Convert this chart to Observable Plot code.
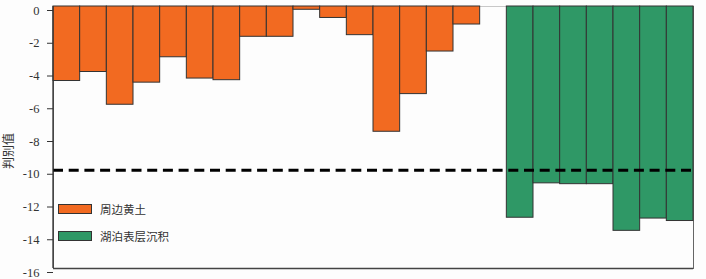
<!DOCTYPE html>
<html>
<head>
<meta charset="utf-8">
<script src="https://cdn.jsdelivr.net/npm/d3@7"></script>
<script src="https://cdn.jsdelivr.net/npm/@observablehq/plot@0.6"></script>
<style>
  html, body { margin: 0; padding: 0; background: #fdfdfd; }
  #wrap { position: relative; width: 706px; height: 279px; }
  #wrap svg text { font-family: "Liberation Serif", "Times New Roman", serif !important; }
  #wrap svg text.ytitle { font-family: "Noto Sans CJK SC", sans-serif !important; }
  .legend { position: absolute; left: 58px; top: 0; font-family: "Noto Sans CJK SC", sans-serif; font-size: 11.5px; color: #333; }
  .legend .item { position: absolute; display: flex; align-items: center; white-space: nowrap; }
  .legend .sw { width: 32px; height: 8px; border: 1px solid #333; margin-right: 8px; }
</style>
</head>
<body>
<div id="wrap"></div>
<script>
// Discriminant values of surrounding loess samples
const loessIds = ["L1","L2","L3","L4","L5","L6","L7","L8","L9","L10","L11","L12","L13","L14","L15","L16"];
const loessValues = [-4.55, -4.0, -6.0, -4.65, -3.1, -4.4, -4.5, -1.85, -1.85, -0.2, -0.7, -1.75, -7.65, -5.35, -2.75, -1.1];

// Discriminant values of lake surface sediment samples
const lakeIds = ["S1","S2","S3","S4","S5","S6","S7"];
const lakeValues = [-12.9, -10.8, -10.85, -10.85, -13.7, -12.95, -13.1];

const groupNames = ["周边黄土", "湖泊表层沉积"];
const groupColors = ["#F26A21", "#2F9866"];
const threshold = -10;
const yTicks = [0, -2, -4, -6, -8, -10, -12, -14, -16];
const yLabel = "判别值";

const rows = [
  ...loessIds.map((id, i) => ({id, value: loessValues[i], group: groupNames[0]})),
  ...lakeIds.map((id, i) => ({id, value: lakeValues[i], group: groupNames[1]}))
];
// one empty slot separates the two groups
const domain = [...loessIds, "gap", ...lakeIds];

const chart = Plot.plot({
  width: 706,
  height: 279,
  marginLeft: 53,
  marginRight: 13,
  marginTop: 6,
  marginBottom: 11,
  style: {background: "#fdfdfd", fontSize: "12px", color: "#333"},
  x: {type: "band", domain, padding: 0, round: false, axis: null},
  y: {domain: [-16, 0], label: null},
  color: {domain: groupNames, range: groupColors},
  marks: [
    Plot.frame({stroke: "#666", strokeWidth: 1}),
    Plot.ruleY([0], {stroke: "#c8c8c8", strokeWidth: 1}),
    Plot.barY(rows, {x: "id", y: "value", fill: "group", stroke: "#333", strokeWidth: 1, inset: 0}),
    Plot.ruleY([threshold], {stroke: "#000", strokeWidth: 3, strokeDasharray: "10,5.7"}),
    Plot.axisY({ticks: yTicks, tickFormat: d => String(d), tickSize: 6, tickPadding: 8, dy: 4, fontSize: 12.5, label: null, stroke: "#333"}),
    Plot.ruleY([-16], {stroke: "#444", strokeWidth: 1.3})
  ]
});

const wrap = document.getElementById("wrap");
wrap.appendChild(chart);

const svg = d3.select(chart);

// left axis line
const ys = chart.scale("y");
svg.append("line")
  .attr("x1", 53).attr("x2", 53)
  .attr("y1", ys.apply(0)).attr("y2", ys.apply(-16))
  .attr("stroke", "#333").attr("stroke-width", 1.3);

// y axis title
svg.append("text")
  .attr("class", "ytitle")
  .attr("transform", `translate(9,151) rotate(-90)`)
  .attr("text-anchor", "middle")
  .attr("dy", "0.35em")
  .attr("font-size", 12)
  .attr("fill", "#333")
  .text(yLabel);

// legend
const legend = document.createElement("div");
legend.className = "legend";
const legendTops = [200.5, 227.5];
groupNames.forEach((name, i) => {
  const item = document.createElement("div");
  item.className = "item";
  item.style.top = legendTops[i] + "px";
  const sw = document.createElement("div");
  sw.className = "sw";
  sw.style.background = groupColors[i];
  const t = document.createElement("span");
  t.textContent = name;
  item.appendChild(sw);
  item.appendChild(t);
  legend.appendChild(item);
});
wrap.appendChild(legend);
</script>
</body>
</html>
